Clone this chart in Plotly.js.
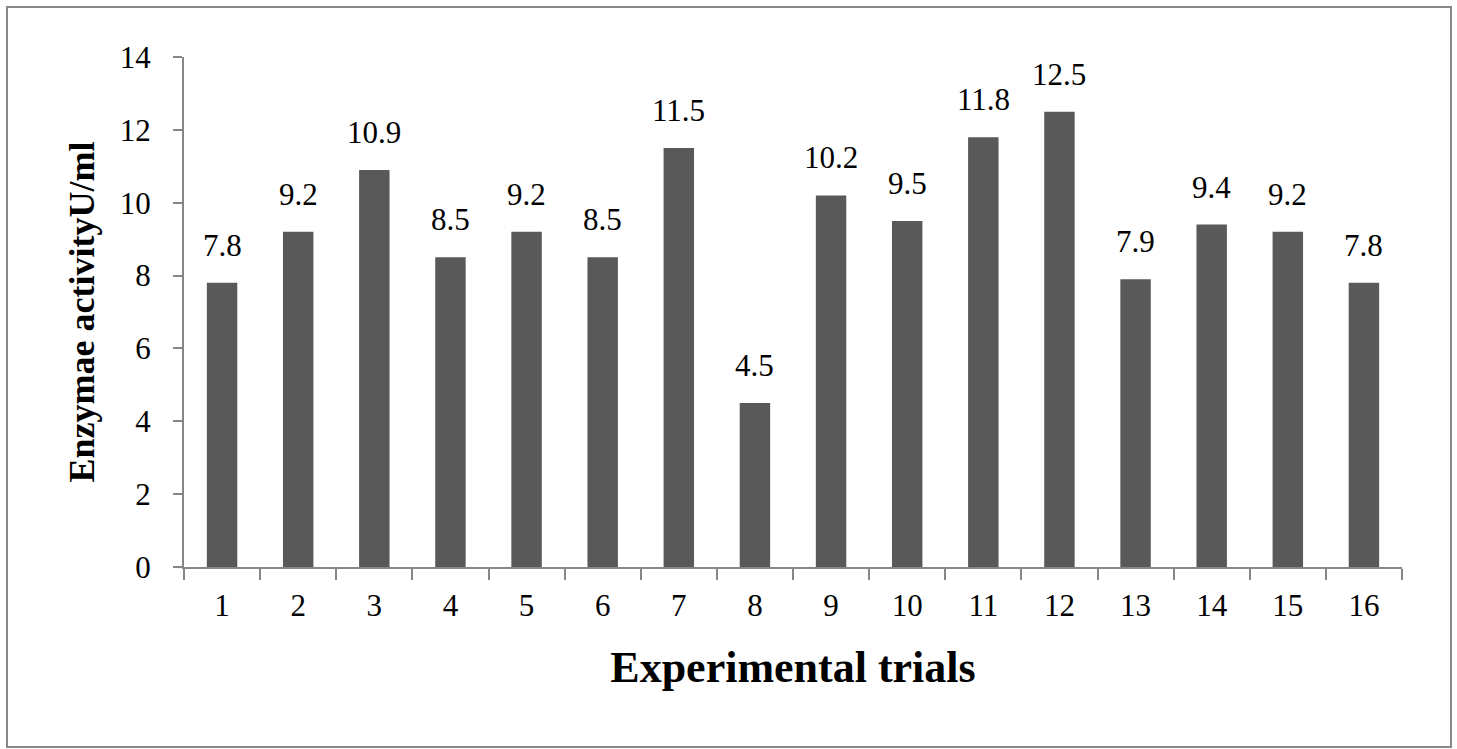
<!DOCTYPE html>
<html>
<head>
<meta charset="utf-8">
<script src="https://cdn.plot.ly/plotly-3.0.1.min.js"></script>
<style>
  html, body { margin: 0; padding: 0; background: #ffffff; }
  #chart { width: 1457px; height: 749px; }
</style>
</head>
<body>
<div id="chart"></div>
<script>
const trials = ["1","2","3","4","5","6","7","8","9","10","11","12","13","14","15","16"];
const activity = [7.8, 9.2, 10.9, 8.5, 9.2, 8.5, 11.5, 4.5, 10.2, 9.5, 11.8, 12.5, 7.9, 9.4, 9.2, 7.8];
const activityLabels = ["7.8","9.2","10.9","8.5","9.2","8.5","11.5","4.5","10.2","9.5","11.8","12.5","7.9","9.4","9.2","7.8"];
const yTickVals = [0, 2, 4, 6, 8, 10, 12, 14];

const serif = "Liberation Serif";
const axisGray = "#868686";

const trace = {
  type: "bar",
  x: trials,
  y: activity,
  marker: { color: "#595959", line: { width: 0 } },
  hoverinfo: "x+y"
};

const labelAnnotations = trials.map((t, i) => ({
  x: i, y: activity[i], xref: "x", yref: "y",
  text: activityLabels[i],
  showarrow: false,
  yanchor: "bottom",
  yshift: 18,
  font: { family: "Liberation Serif", size: 31, color: "#000000" }
}));

const layout = {
  width: 1457,
  height: 749,
  margin: { l: 184, r: 55, t: 57, b: 182, pad: 0 },
  paper_bgcolor: "#ffffff",
  plot_bgcolor: "#ffffff",
  showlegend: false,
  bargap: 0.6,
  font: { family: serif, color: "#000000" },
  xaxis: {
    type: "category",
    range: [-0.5, 15.5],
    showline: true,
    linecolor: axisGray,
    linewidth: 2,
    ticks: "outside",
    tickson: "boundaries",
    ticklen: 11,
    tickwidth: 2,
    tickcolor: axisGray,
    ticklabelstandoff: 10,
    showgrid: false,
    zeroline: false,
    tickfont: { family: serif, size: 31, color: "#000000" },
    title: {
      text: "<b>Experimental trials</b>",
      font: { family: serif, size: 44, color: "#000000" },
      standoff: 29
    }
  },
  yaxis: {
    range: [0, 14],
    tickvals: yTickVals,
    showline: true,
    linecolor: axisGray,
    linewidth: 2,
    ticks: "outside",
    ticklen: 9,
    tickwidth: 2,
    tickcolor: axisGray,
    ticklabelstandoff: 16,
    showgrid: false,
    zeroline: false,
    tickfont: { family: serif, size: 31, color: "#000000" },
    title: {
      text: "<b>Enzymae activityU/ml</b>",
      font: { family: serif, size: 36, color: "#000000" },
      standoff: 14
    }
  },
  annotations: labelAnnotations,
  shapes: [{
    type: "rect",
    xref: "paper", yref: "paper",
    x0: (7 - 184) / 1218, x1: (1451 - 184) / 1218,
    y0: (567 - 747) / 510, y1: (567 - 7) / 510,
    line: { color: "#888888", width: 2 },
    fillcolor: "rgba(0,0,0,0)",
    layer: "below"
  }]
};

Plotly.newPlot("chart", [trace], layout, { displayModeBar: false, staticPlot: true });
</script>
</body>
</html>
